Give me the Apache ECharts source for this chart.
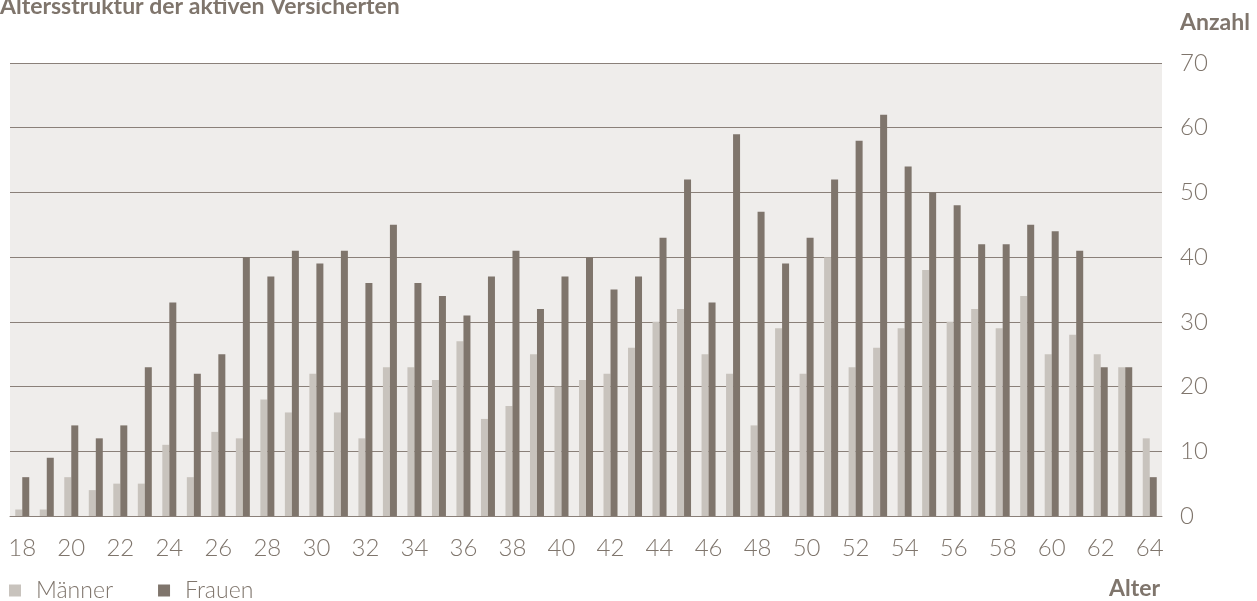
<!DOCTYPE html>
<html>
<head>
<meta charset="utf-8">
<script src="https://cdn.jsdelivr.net/npm/echarts@6/dist/echarts.min.js"></script>
<style>
html,body{margin:0;padding:0;background:#fff;}
#chart{width:1257px;height:601px;}
</style>
</head>
<body>
<div id="chart"></div>
<script>
const ages = ['18','19','20','21','22','23','24','25','26','27','28','29','30','31','32','33','34','35','36','37','38','39','40','41','42','43','44','45','46','47','48','49','50','51','52','53','54','55','56','57','58','59','60','61','62','63','64'];
const maenner = [1,1,6,4,5,5,11,6,13,12,18,16,22,16,12,23,23,21,27,15,17,25,20,21,22,26,30,32,25,22,14,29,22,40,23,26,29,38,30,32,29,34,25,28,25,23,12];
const frauen = [6,9,14,12,14,23,33,22,25,40,37,41,39,41,36,45,36,34,31,37,41,32,37,40,35,37,43,52,33,59,47,39,43,52,58,62,54,50,48,42,42,45,44,41,23,23,6];
const yTicks = [0,10,20,30,40,50,60,70];

const TXT = '#7f756c';
const FONT = 'Lato, Roboto, "Noto Sans", sans-serif';

const chart = echarts.init(document.getElementById('chart'), null, {renderer:'canvas'});
chart.setOption({
  animation:false,
  backgroundColor:'#ffffff',
  textStyle:{fontFamily:FONT,color:TXT},
  grid:{left:10,right:95,top:63,bottom:85,show:true,backgroundColor:'#efedeb',borderWidth:0,containLabel:false},
  legend:{
    left:9,top:579,itemWidth:12,itemHeight:12,itemGap:45,icon:'rect',padding:0,
    textStyle:{fontFamily:FONT,fontSize:23,fontWeight:300,color:TXT,padding:[0,0,0,10]},
    data:['Männer','Frauen']
  },
  graphic:[
    {type:'text',left:0,top:-5,style:{text:'Altersstruktur der aktiven Versicherten',fontFamily:FONT,fontSize:23,fontWeight:'bold',fill:TXT}},
    {type:'text',left:1180,top:11,style:{text:'Anzahl',fontFamily:FONT,fontSize:23,fontWeight:'bold',fill:TXT}},
    {type:'text',right:97,top:577,style:{text:'Alter',fontFamily:FONT,fontSize:23,fontWeight:'bold',fill:TXT}}
  ],
  xAxis:{
    type:'category',data:ages,
    axisLine:{show:true,lineStyle:{color:'#8a8079',width:1}},
    axisTick:{show:false},
    axisLabel:{interval:1,margin:20,fontFamily:FONT,fontSize:24,fontWeight:300,color:TXT}
  },
  yAxis:{
    type:'value',position:'right',min:0,max:70,interval:10,
    axisLine:{show:false},axisTick:{show:false},
    axisLabel:{margin:18,fontFamily:FONT,fontSize:24,fontWeight:300,color:TXT,
      formatter:function(v){return yTicks.indexOf(v)>=0?String(v):'';}},
    splitLine:{show:true,lineStyle:{color:'#8a8079',width:1}}
  },
  series:[
    {name:'Männer',type:'bar',data:maenner,barWidth:7,barGap:'0%',itemStyle:{color:'#c8c3bd'}},
    {name:'Frauen',type:'bar',data:frauen,barWidth:7,barGap:'0%',itemStyle:{color:'#7f756c'}}
  ]
});
</script>
</body>
</html>
